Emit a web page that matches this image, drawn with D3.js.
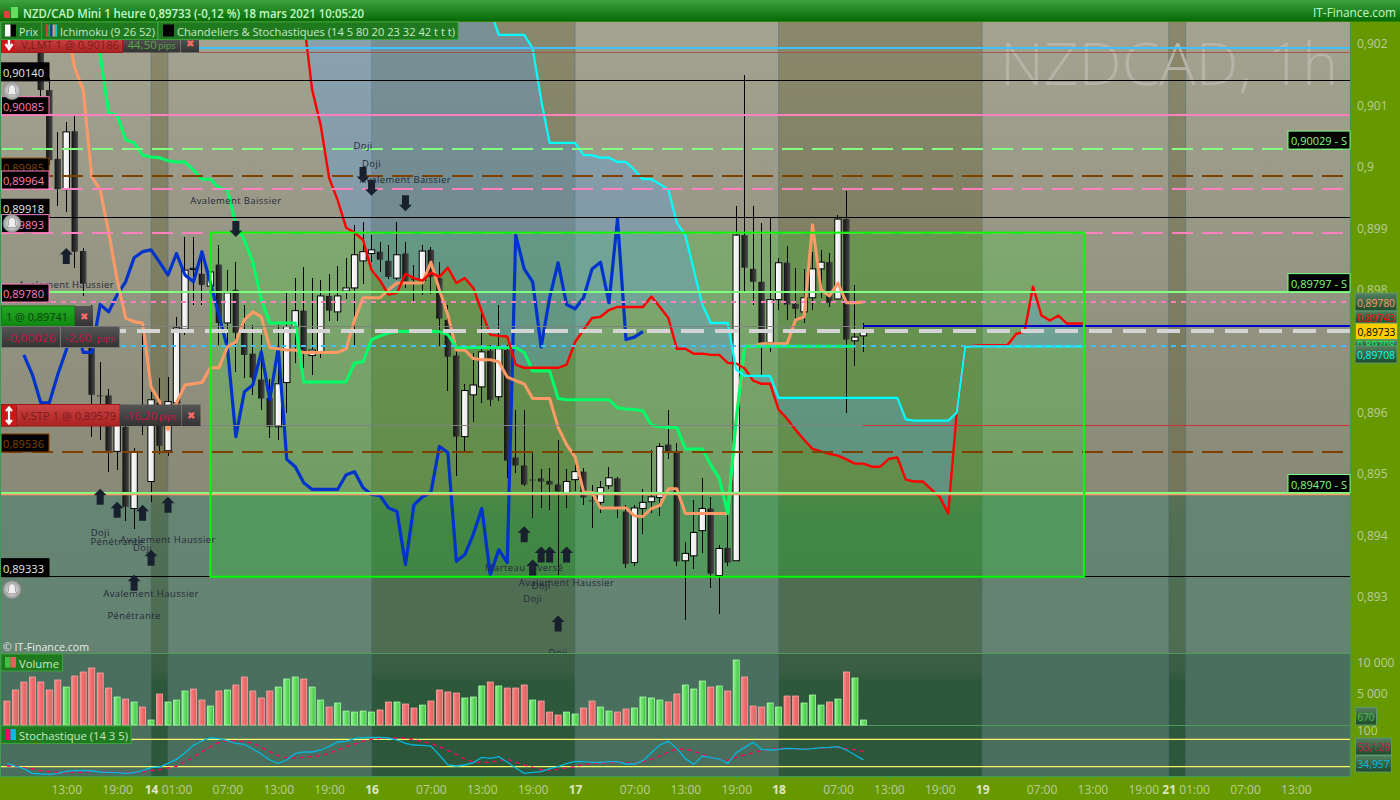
<!DOCTYPE html>
<html><head><meta charset="utf-8">
<script src="https://d3js.org/d3.v7.min.js"></script>
<style>html,body{margin:0;padding:0;background:#669900;overflow:hidden}svg{display:block}text{font-family:"Open Sans",sans-serif}</style>
</head><body><svg id="c" width="1400" height="800"></svg>
<script>
// All price values are in 1/100000 above 0.89 (733 = 0,89733)
const openP=[1250,1235,1225,1240,1223,1125,1013,963,1058,863,719,628,628,537,577,444,605,488,616,538,616,736,833,826,806,841,746,800,730,696,654,624,577,649,740,766,693,697,790,764,798,803,847,859,862,847,819,859,818,815,865,819,751,693,561,629,642,701,626,702,527,514,491,493,489,483,470,491,504,457,454,481,493,439,356,444,455,462,548,537,359,367,408,444,335,380,359,889,834,813,714,784,844,777,764,787,834,845,785,915,717,725];
const highP=[1265,1255,1240,1260,1240,1145,1057,1073,1083,868,776,683,639,613,597,543,730,634,657,658,756,886,886,857,862,873,832,845,776,743,727,654,743,797,819,837,819,816,826,839,852,906,910,889,878,873,910,878,841,873,870,845,776,710,647,697,767,710,776,710,605,605,537,509,510,556,509,527,510,483,488,512,495,450,449,476,540,551,605,551,389,458,494,462,384,434,937,1150,937,909,919,852,871,836,834,862,865,860,922,961,808,746];
const lowP=[1215,1205,1210,1215,1114,1003,937,927,836,790,561,556,504,507,423,410,564,455,532,530,605,727,776,776,784,710,710,666,657,629,605,559,556,600,681,673,662,689,750,750,785,710,810,845,829,818,816,803,780,792,793,709,636,497,535,585,616,611,619,494,501,481,429,445,442,335,445,472,449,413,437,476,429,348,350,402,437,432,524,351,263,346,371,315,272,351,359,797,776,662,698,767,751,751,746,767,787,772,785,600,676,698];
const closeP=[1225,1215,1215,1225,1125,1011,964,1057,862,810,629,627,538,580,447,536,589,621,546,618,738,832,835,808,829,746,795,730,694,657,623,577,647,740,766,697,702,790,766,790,803,857,862,865,849,821,857,813,818,863,821,753,691,561,636,645,699,621,704,522,514,483,491,488,483,472,488,504,462,457,478,494,445,354,445,454,463,545,537,358,371,405,444,338,379,356,889,836,813,714,784,844,776,769,787,834,845,779,915,719,723,733];

const tenkanStart=7;
const tenkan=[1239,1161,1125,984,963,894,816,754,748,746,642,618,572,616,645,647,649,673,673,707,715,751,764,756,706,704,702,702,698,698,698,698,698,704,751,787,787,787,800,811,811,811,811,845,800,759,702,702,688,686,686,683,658,652,647,623,623,623,576,548,528,471,470,445,445,445,445,432,431,444,449,476,476,436,436,436,436,436,436,589,708,708,712,712,712,712,751,756,906,800,790,811,779,779,780];
const kijunStart=10;
const kijun=[1239,1182,1088,1084,1044,1039,1019,1016,1015,1010,1008,1008,995,980,980,966,963,906,881,845,784,746,746,746,746,650,650,650,650,650,650,681,683,719,725,730,732,732,732,732,732,732,727,706,706,706,706,706,706,706,706,698,668,668,668,623,621,621,621,621,621,621,608,606,605,603,580,577,576,576,541,541,541,515,493,436,589,708,708,708,708,708,708,708,708,708,708,708,708,708,708];
const chikouStart=2;
const chikou=[694,662,616,616,662,702,751,698,698,776,764,792,813,852,862,865,845,824,859,824,813,862,811,759,706,561,634,645,699,621,706,524,512,486,475,475,475,475,499,504,478,467,465,445,439,353,450,463,470,545,535,358,369,402,444,336,377,356,889,834,813,707,787,844,776,769,787,834,845,779,915,719,723,732];
const senkouStart=35;
const senkouA=[1239,1125,1068,982,946,901,893,881,832,815,792,795,826,819,815,828,821,836,811,819,803,764,727,725,724,678,673,673,673,673,673,678,715,735,754,756,767,772,772,772,772,789,772,754,704,704,696,696,694,694,681,680,672,652,647,647,605,590,572,556,541,537,533,530,524,517,517,512,512,525,527,491,488,488,475,463,436,600,707,709,710,710,710,710,728,732,805,758,750,758,745,745,745];
const senkouB=[1300,1300,1300,1300,1300,1300,1300,1300,1300,1300,1300,1300,1300,1300,1300,1300,1300,1300,1300,1300,1300,1300,1255,1215,1215,1215,1215,1193,1109,1039,1039,1039,1039,1019,1019,1015,1015,1008,1008,995,980,980,972,963,909,889,832,776,746,746,746,670,660,660,660,660,624,624,624,624,624,624,624,624,624,624,624,624,624,624,624,589,587,587,587,587,587,600,707,708,708,708,708,708,708,708,708,708,708,708,708,708,708];

const volumes=[3740,5520,6810,7620,6810,5520,7140,6000,7780,8430,9080,8270,5840,4390,4060,3580,2770,670,4870,3580,3900,5360,5680,3900,2930,5360,5520,6330,7620,5360,4230,5360,6000,7300,7620,7300,6000,3900,2770,3420,2120,1960,2120,1960,2290,3580,3580,3260,2610,3090,3740,5520,5200,5030,4230,4390,6170,6810,6170,5840,5840,6330,3900,3740,1960,1480,1960,1640,2610,3740,2770,2120,1960,2450,2610,4390,4230,3900,3580,4870,6330,5680,6970,6000,6170,5360,10370,7620,2930,2770,3420,2770,4550,4550,3420,4710,3090,3580,4060,8430,7460,670];
const volumeUpBars=[7,13,15,17,19,20,21,24,26,32,33,34,36,37,39,40,41,42,43,46,49,54,55,56,58,62,66,67,70,71,74,75,76,77,80,81,82,84,86,90,91,94,95,96,98,100,101];

const stochK=[27.3,21.5,15.6,5.4,3.9,3.2,5.4,9.8,11.3,12,10.5,8.3,7.6,6.9,5.4,6.9,11.3,17.8,19.3,27.3,36.1,50.7,66.8,76.3,83.6,81.4,77,71.2,69,58.8,47.8,34.6,27.3,34.6,49,52.2,52.2,56.6,64.6,74.1,75.6,82.2,83.6,84.3,84.3,82.9,78.5,71.2,67.5,66.8,65.3,45.6,23.7,21.5,23.7,28.8,40.5,38.3,42,30.2,17.1,5.4,7.6,9.1,15.6,20,26.6,31.7,31,29.5,29.5,31,31,25.9,25.9,33.2,50.7,67.5,75.6,60.2,37.6,25.1,43.4,39.8,36.8,27.3,50.7,62.4,73.4,58,56.6,58,60.2,59.5,58,59.5,61.7,62.4,63.9,56.6,45.6,35];
const stochD=[21.5,21.5,17.8,15.6,11.3,9.1,7.6,6.9,7.6,8.3,9.1,9.8,9.1,7.6,7.6,7.6,8.3,11.3,13.4,17.1,20.8,31,40.5,52.9,63.9,73.4,77,77,74.8,71.9,62.4,52.9,44.1,39.8,39,40.5,42,44.1,49.3,56.6,63.9,69.7,76.3,79.9,82.2,82.9,82.9,82.2,79.9,74.8,71.2,63.9,55.8,47,36.8,30.2,29.5,29.5,33.2,36.1,30.2,23.7,18.6,13.4,12,14.2,17.1,20,24.4,27.3,28,28.8,29.5,28.8,27.3,31,36.1,43.4,52.2,58.8,58,54.4,47,40.5,36.1,33.9,40.5,45.6,50.7,55.1,58,60.2,59.5,58.8,58.8,60.2,60.9,61.7,62.4,59.5,57.3,53.1];

const timeTickBars=[7,13,17,20,26,32,38,43,50,56,62,67,74,80,86,91,98,104,110,115,122,128,134,137,140,146,152];
const timeTickLabels=["13:00","19:00","14","01:00","07:00","13:00","19:00","16","07:00","13:00","19:00","17","07:00","13:00","19:00","18","07:00","13:00","19:00","19","07:00","13:00","19:00","21","01:00","07:00","13:00"];
const priceTicks=[1200,1100,1000,900,800,700,600,500,400,300];
const priceTickLabels=["0,902","0,901","0,9","0,899","0,898","0,897","0,896","0,895","0,894","0,893"];
const volumeTicks=[10000,5000];
const volumeTickLabels=["10 000","5 000"];
const weekendBands=[[17,19],[43,67],[91,115],[137,139]];

const patternNames=["Avalement Baissier","Doji","Doji","Avalement Baissier","Avalement Haussier","Doji","Pénétrante","Avalement Haussier","Doji","Avalement Haussier","Pénétrante","Marteau Inversé","Doji","Doji","Avalement Haussier","Doji"];
const patternBars=[27,42,43,47,7,11,13,19,16,17,15,61,63,62,66,65];
const patternLevels=[946,1034,1006,979,808,405,390,393,380,306,270,348,319,298,323,210];
const downArrowBars=[27,42,43,47];
const downArrowLevels=[899,987,966,941];
const upArrowBars=[7,11,13,16,19,15,17,61,63,64,66,62,65];
const upArrowLevels=[855,463,442,437,450,323,364,402,369,369,369,348,257];

const zoneFirstBar=24, zoneLastBar=127, zoneTop=893, zoneBottom=333;
const leftLevels=[[1140,"0,90140","#e8e8e8","#000"],[1085,"0,90085","#ff80c0","#ff80c0"],[985,"0,89985","#804000","#804000"],[964,"0,89964","#ff80c0","#ff80c0"],[918,"0,89918","#e8e8e8","#000"],[893,"0,89893","#ff80c0","#ff80c0"],[780,"0,89780","#ff80c0","#ff80c0"],[536,"0,89536","#804000","#804000"],[333,"0,89333","#e8e8e8","#000"]];
const supportLevels=[[1029,"0,90029 - S"],[797,"0,89797 - S"],[470,"0,89470 - S"]];
const bellLevels=[1124,908,312];

const svg=d3.select("#c");
const X=d3.scaleLinear().domain([0,152]).range([6.9,1295.9]);
const Y=d3.scaleLinear().domain([300,1200]).range([597,44]);
const V=d3.scaleLinear().domain([0,10000]).range([724.2,662.3]);
const S=d3.scaleLinear().domain([0,100]).range([775.8,730.2]);
const W=1350;

const defs=svg.append("defs");
function grad(id,stops,horizontal){const g=defs.append("linearGradient").attr("id",id).attr("x1",0).attr("y1",0).attr("x2",horizontal?1:0).attr("y2",horizontal?0:1);
 stops.forEach(s=>g.append("stop").attr("offset",s[0]).attr("stop-color",s[1]).attr("stop-opacity",s[2]===undefined?1:s[2]));}
grad("base",[[0,"#a4a391"],[.65,"#888877"],[1,"#868676"]]);
grad("band",[[0,"#3c3c00",.26],[.62,"#3c3c00",.26],[.66,"#143200",.26],[.86,"#143200",.28],[.875,"#003200",.38],[1,"#003200",.38]]);
grad("black",[[0,"#111"],[1,"#484848"]],true);
grad("white",[[0,"#fff"],[1,"#e6e6e6"]],true);
grad("head",[[0,"#3ea23e"],[1,"#056a05"]]);
grad("redBar",[[0,"#ff8888"],[.4,"#f07070"],[1,"#e06060"]],true);
grad("greenBar",[[0,"#90f090"],[.5,"#60dc60"],[1,"#40c040"]],true);
grad("tagBg",[[0,"#55805f"],[1,"#1e4a2a"]]);
grad("redBtn",[[0,"#cc4444"],[1,"#aa2222"]]);
grad("greenBtn",[[0,"#22aa22"],[1,"#118811"]]);
grad("darkBtn",[[0,"#555"],[1,"#333"]]);
const bell=defs.append("radialGradient").attr("id","bell");
bell.append("stop").attr("offset",0).attr("stop-color","#fff");bell.append("stop").attr("offset",1).attr("stop-color","#999");
defs.append("clipPath").attr("id","plot").append("rect").attr("x",0).attr("y",22).attr("width",W).attr("height",632);

function txt(g,x,y,s,size,color,opt={}){const t=g.append("text").attr("x",x).attr("y",y).attr("font-size",size).attr("fill",color).attr("dominant-baseline","central").text(s);
 if(opt.anchor)t.attr("text-anchor",opt.anchor);if(opt.len)t.attr("textLength",opt.len).attr("lengthAdjust","spacingAndGlyphs");if(opt.weight)t.attr("font-weight",opt.weight);if(opt.ls)t.attr("letter-spacing",opt.ls);return t;}
function box(g,x,y,w,h,fill,stroke){return g.append("rect").attr("x",x).attr("y",y).attr("width",w).attr("height",h).attr("fill",fill).attr("stroke",stroke||"none");}

// Backgrounds
box(svg,0,0,1400,800,"#669900");
box(svg,0,22,W,754,"url(#base)");
const y494=Y(470)+1.5;
box(svg,0,y494,W,776-y494,"#007864").attr("opacity",.25);
box(svg,0,654,W,122,"#003c28").attr("opacity",.27);
weekendBands.forEach(b=>{box(svg,X(b[0]),22,X(b[1])-X(b[0]),754,"url(#band)");
 [b[0],b[1]].forEach(k=>svg.append("line").attr("x1",X(k)).attr("x2",X(k)).attr("y1",22).attr("y2",776).attr("stroke","#4a6a80").attr("stroke-opacity",.45));});

// Watermark
txt(svg,1000,62.5,"NZDCAD, 1h",58,"#b8b3a8",{len:338}).attr("font-weight",300);

const price=svg.append("g").attr("clip-path","url(#plot)");
// Signal zone fill
box(price,X(zoneFirstBar),Y(zoneTop),X(zoneLastBar)-X(zoneFirstBar),Y(zoneBottom)-Y(zoneTop),"#00ff00").attr("opacity",.17);

// Cloud
const bars=d3.range(senkouA.length);
price.append("path").datum(bars).attr("fill","#5aa0e6").attr("opacity",.35)
 .attr("d",d3.area().x(k=>X(senkouStart+k)).y0(k=>Y(senkouA[k])).y1(k=>Y(senkouB[k])));

// Candles
const candles=d3.range(openP.length);
price.append("g").selectAll("line").data(candles).join("line")
 .attr("x1",X).attr("x2",X).attr("y1",i=>Y(highP[i])).attr("y2",i=>Y(lowP[i])).attr("stroke","#000").attr("stroke-width",1).attr("shape-rendering","crispEdges");
price.append("g").selectAll("rect").data(candles).join("rect")
 .attr("x",i=>X(i)-3.2).attr("width",6.4)
 .attr("y",i=>Math.min(Y(openP[i]),Y(closeP[i])))
 .attr("height",i=>Math.max(Math.abs(Y(openP[i])-Y(closeP[i])),.8))
 .attr("fill",i=>closeP[i]>openP[i]?"url(#white)":"url(#black)")
 .attr("stroke",i=>closeP[i]>openP[i]?"#000":"none").attr("stroke-width",1);

// Ichimoku lines
function series(arr,start,color,w){price.append("path").datum(arr).attr("fill","none").attr("stroke",color).attr("stroke-width",w).attr("stroke-linejoin","round")
 .attr("d",d3.line().x((d,k)=>X(start+k)).y(d=>Y(d)));}
series(chikou,chikouStart,"#0033cc",3.2);
series(tenkan,tenkanStart,"#ff9966",3);
series(kijun,kijunStart,"#00ff66",3);
series(senkouA,senkouStart,"#ff0000",2.4);
series(senkouB,senkouStart,"#00ffff",2.2);

// Level lines
function level(v,color,w,dash,x0,off,x1){price.append("line").attr("x1",x0===undefined?0:x0).attr("x2",x1===undefined?W:x1).attr("y1",Y(v)).attr("y2",Y(v)).attr("stroke",color).attr("stroke-width",w)
 .attr("stroke-dasharray",dash||null).attr("stroke-dashoffset",off||0).attr("shape-rendering","crispEdges");}
level(1194,"#40c0ff",2,null,199);
level(1186,"#a05a50",1,null,199);
level(1140,"#000",1);
level(1085,"#ff80c0",2);
level(1029,"#80ff80",2,"21 9",0,-1.7);
level(985,"#804000",2,"21 9",0,-1.7);
level(964,"#ff80c0",2,"21 9",0,-1.7);
level(918,"#000",1);
level(893,"#ff80c0",2,"21 9",0,-1.7);
level(797,"#80ff80",2);
level(780,"#ff80c0",2,"5 5",0,-1);
level(741,"#808080",1,null,0,0,X(101));
level(741,"#0000cc",2.4,null,X(101));
level(733,"#d4d4d4",3.4,"23 11",0,-1);
level(708,"#40c0ff",2,"5 5",0,-1);
level(579,"#808080",1,null,0,0,X(101));
level(579,"#d03030",1,null,X(101));
level(536,"#804000",2,"21 9",0,-1.7);
level(470,"#80ff80",2);
price.append("line").attr("x1",0).attr("x2",W).attr("y1",Y(470)+2).attr("y2",Y(470)+2).attr("stroke","#ff9966").attr("stroke-width",1.4);
level(333,"#000",1);
// Zone border
price.append("rect").attr("x",X(zoneFirstBar)).attr("y",Y(zoneTop)).attr("width",X(zoneLastBar)-X(zoneFirstBar)).attr("height",Y(zoneBottom)-Y(zoneTop)).attr("fill","none").attr("stroke","#00ff00").attr("stroke-width",2);

// Pattern markers
const arrowUp="M0,-8 L6.5,-1.5 L3.5,-1.5 L3.5,8 L-3.5,8 L-3.5,-1.5 L-6.5,-1.5 Z";
const arrowDown="M0,8 L6.5,1.5 L3.5,1.5 L3.5,-8 L-3.5,-8 L-3.5,1.5 L-6.5,1.5 Z";
upArrowBars.forEach((b,k)=>price.append("path").attr("d",arrowUp).attr("fill","#18202e").attr("transform",`translate(${X(b)},${Y(upArrowLevels[k])})`));
downArrowBars.forEach((b,k)=>price.append("path").attr("d",arrowDown).attr("fill","#18202e").attr("transform",`translate(${X(b)},${Y(downArrowLevels[k])})`));
patternNames.forEach((n,k)=>txt(price,X(patternBars[k]),Y(patternLevels[k]),n,9.5,"#25293a",{anchor:"middle",ls:.4}));

// Pane separators
[653.5,725.5].forEach(y=>svg.append("line").attr("x1",0).attr("x2",W).attr("y1",y).attr("y2",y).attr("stroke","#4f9a58").attr("stroke-width",1));

// Volume pane
const upSet=new Set(volumeUpBars);
svg.append("g").selectAll("rect").data(volumes).join("rect")
 .attr("x",(d,i)=>X(i)-3).attr("width",6).attr("y",d=>V(d)).attr("height",d=>725-V(d))
 .attr("fill",(d,i)=>upSet.has(i)?"url(#greenBar)":"url(#redBar)")
 .attr("stroke",(d,i)=>upSet.has(i)?"#a8ffa8":"#ffa8a8").attr("stroke-width",.8);

// Stochastic pane
[80,20].forEach(v=>svg.append("line").attr("x1",0).attr("x2",W).attr("y1",S(v)).attr("y2",S(v)).attr("stroke","#ffff66").attr("stroke-width",1.3));
const sl=d3.line().x((d,i)=>X(i)).y(d=>S(d));
svg.append("path").datum(stochD).attr("d",sl).attr("fill","none").attr("stroke","#ff0066").attr("stroke-width",1.4).attr("stroke-dasharray","4 4");
svg.append("path").datum(stochK).attr("d",sl).attr("fill","none").attr("stroke","#00b8e0").attr("stroke-width",1.3);

// Axes
const axisCol="#bccb9a";
svg.append("line").attr("x1",W+.5).attr("x2",W+.5).attr("y1",22).attr("y2",777).attr("stroke","#3f9a55").attr("stroke-width",1.2);
svg.append("line").attr("x1",0).attr("x2",W).attr("y1",776.5).attr("y2",776.5).attr("stroke","#3f9a55").attr("stroke-width",1.2);
svg.append("line").attr("x1",.5).attr("x2",.5).attr("y1",22).attr("y2",777).attr("stroke","#3f9a55");
const priceAxis=svg.append("g").attr("transform",`translate(${W},0)`).call(d3.axisRight(Y).tickValues(priceTicks).tickSize(4).tickPadding(3).tickFormat((d,i)=>priceTickLabels[i]));
const volAxis=svg.append("g").attr("transform",`translate(${W},0)`).call(d3.axisRight(V).tickValues(volumeTicks).tickSize(4).tickPadding(3).tickFormat((d,i)=>volumeTickLabels[i]));
const stAxis=svg.append("g").attr("transform",`translate(${W},0)`).call(d3.axisRight(S).tickValues([100]).tickSize(4).tickPadding(3));
const timeAxis=svg.append("g").attr("transform","translate(0,777)").call(d3.axisBottom(X).tickValues(timeTickBars).tickSize(3).tickPadding(5).tickFormat((d,i)=>timeTickLabels[i]));
[priceAxis,volAxis,stAxis,timeAxis].forEach(a=>{a.select(".domain").remove();a.selectAll("line").attr("stroke","#3f9a55");a.selectAll("text").attr("fill",axisCol).attr("font-size",12).attr("font-family",'"Open Sans",sans-serif');});
timeAxis.selectAll("text").filter(function(){return this.textContent.length<3;}).attr("fill","#dfe6c6").attr("font-weight",700);

// Left value boxes
leftLevels.forEach(l=>{const b=Y(l[0]);box(svg,1.5,b-18,47.5,18,"#000",l[3]);txt(svg,3,b-8.5,l[1],11.5,l[2],{len:41});});
// Bells
bellLevels.forEach(v=>{const g=svg.append("g").attr("transform",`translate(12,${Y(v)})`);
 g.append("circle").attr("r",9).attr("fill","url(#bell)").attr("stroke","#888").attr("stroke-width",.5);
 g.append("path").attr("d","M-5,4 L5,4 L3.5,1.5 L3.5,-2 A3.5,4 0 0 0 -3.5,-2 L-3.5,1.5 Z").attr("fill","#eee").attr("stroke","#8a8a8a").attr("stroke-width",.7);});
// Support boxes
supportLevels.forEach(l=>{const b=Y(l[0]);box(svg,1288,b-18,62,18,"#000","#80ff80");txt(svg,1291,b-8.5,l[1],11.5,"#80ff80",{len:56});});

// Order buttons
const btn=svg.append("g");
box(btn,1.5,38,121,14.5,"url(#redBtn)","#a01818");box(btn,1.5,38,13,14.5,"#cc1818");
btn.append("path").attr("d","M9,39 L9,46 M5.5,44 L9,49 L12.5,44").attr("stroke","#fff").attr("stroke-width",2.4).attr("fill","none");
txt(btn,21,44.5,"V:LMT  1 @ 0,90186",11.5,"#7a1c1c",{len:98});
box(btn,123,38,57,14.5,"url(#darkBtn)");txt(btn,127.5,44.5,"44,50",11.5,"#55aa44");txt(btn,158,45,"pips",9,"#55aa44");
box(btn,180.5,38,18.5,14.5,"url(#darkBtn)");txt(btn,190,43,"✖",10,"#ff6a6a",{anchor:"middle"});
box(btn,1.5,306,73,20,"url(#greenBtn)","#0f7f0f");txt(btn,6,316,"1 @ 0,89741",11.5,"#0a3f0a",{len:62});
box(btn,75,306,18,20,"url(#darkBtn)");txt(btn,84,316,"✖",10,"#ff6a6a",{anchor:"middle"});
box(btn,1.5,326.5,118,21,"url(#darkBtn)","#777");txt(btn,6,337,"-0,00026",11.5,"#cc1144",{len:50});
btn.append("line").attr("x1",60.5).attr("x2",60.5).attr("y1",327).attr("y2",347).attr("stroke","#777");
txt(btn,65,337,"-2,60",11.5,"#cc1144");txt(btn,97,338,"pips",9,"#cc1144");
box(btn,1.5,404.5,118.5,21.5,"url(#redBtn)","#a01818");box(btn,1.5,404.5,15,21.5,"#cc1818","#a01818");
btn.append("path").attr("d","M9,408 L9,423 M6,411 L9,407.5 L12,411 M6,420 L9,423.5 L12,420").attr("stroke","#fff").attr("stroke-width",2.2).attr("fill","none");
txt(btn,21,415.5,"V:STP  1 @ 0,89579",11.5,"#7a1c1c",{len:95});
box(btn,120,404.5,61,21.5,"url(#darkBtn)");txt(btn,124,415.5,"-16,20",11.5,"#cc1144");txt(btn,159,416.5,"pips",9,"#cc1144");
box(btn,181.5,404.5,19,21.5,"url(#darkBtn)");txt(btn,191,415,"✖",10,"#ff6a6a",{anchor:"middle"});

// Right tags
function tag(y,h,x,w,s,col,fill){box(svg,x,y,w,h,fill||"url(#tagBg)","#5a9a70");txt(svg,x+2,y+h/2,s,11.5,col,{len:w-4});}
tag(293,18,1355,42,"0,89780","#ff9966");
tag(311,13,1355,42,"0,89743","#ff0000");
tag(341,7,1355,42,"0,89708","#00ff66");
tag(323,16.5,1355.5,42,"0,89733","#000","#ffcc00");
tag(346,17,1355,42,"0,89708","#00ffee");
tag(707.5,17.5,1355.5,21,"670","#40c040");
tag(738,17,1355.5,36,"53,128","#d81050");
tag(755.5,16.5,1355.5,36,"34,957","#00b8e0");

// Header
box(svg,0,0,1400,21.5,"url(#head)");
box(svg,4,11,6,7,"#e04040");box(svg,11,7,7,11,"#60e060");
txt(svg,23,12.5,"NZD/CAD Mini 1 heure 0,89733 (-0,12 %) 18 mars 2021 10:05:20",13,"#c4f7c4",{len:341,weight:600});
txt(svg,1313,12.5,"IT-Finance.com",12,"#c4f7c4",{len:83});
const leg=svg.append("g");
box(leg,1,22,40.5,17.5,"#1f7a1f","#3fa03f");box(leg,5,24.5,11,12,"#000");box(leg,5,24.5,5.5,12,"#fff");
txt(leg,19,31.5,"Prix",11.5,"#c8e8c8",{len:19});
box(leg,41.5,22,116,17.5,"#1f7a1f","#3fa03f");
["#d04040","#30a040","#0033cc","#ff9966","#00cccc"].forEach((c,i)=>box(leg,46+i*2.2,24.5,2.2,12,c));
txt(leg,60,31.5,"Ichimoku (9 26 52)",11.5,"#c8e8c8",{len:95});
box(leg,158,22,300,17.5,"#1f7a1f","#3fa03f");box(leg,163,24.5,11,12,"#000");
txt(leg,177,31.5,"Chandeliers & Stochastiques (14 5 80 20 23 32 42 t t t)",11.5,"#c8e8c8",{len:278});
txt(svg,3,647,"© IT-Finance.com",10.5,"#e4ece4",{len:86});
box(svg,1,654,61.5,17,"#1f7a1f","#3fa03f");box(svg,5,657,5.5,10.5,"#40c040");box(svg,10.5,657,5.5,10.5,"#e06060");txt(svg,19,663,"Volume",11.5,"#c8e8c8",{len:40});
box(svg,1,726,130,17.5,"#1f7a1f","#3fa03f");box(svg,5,729,5.5,11,"#ff0066");box(svg,10.5,729,5.5,11,"#00b8e0");txt(svg,19,735,"Stochastique (14 3 5)",11.5,"#c8e8c8",{len:109});
</script></body></html>
